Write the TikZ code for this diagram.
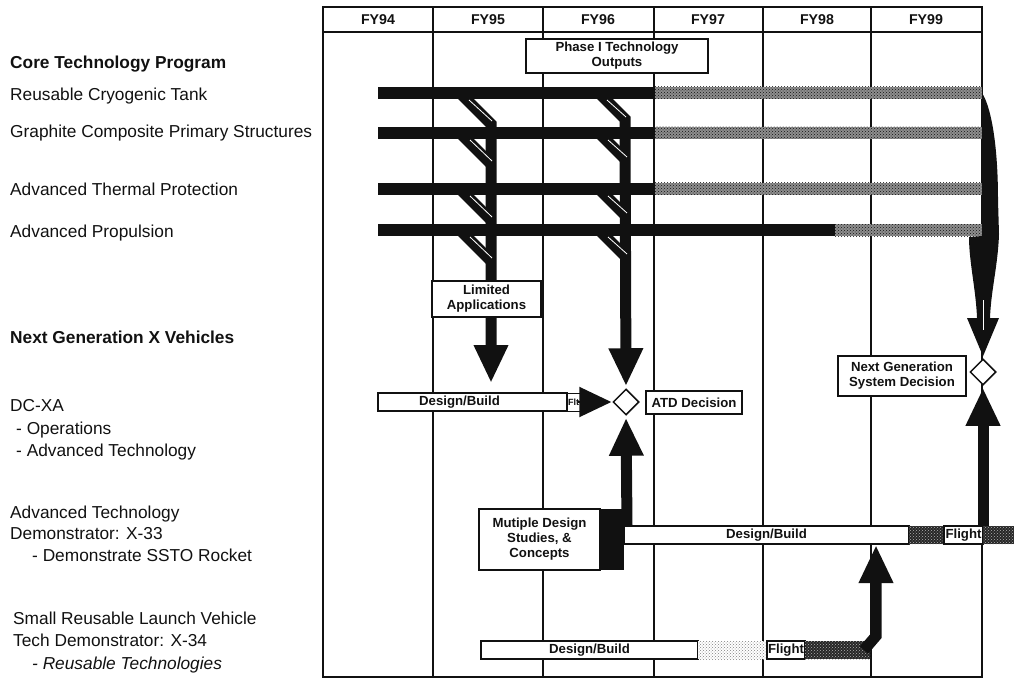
\documentclass[tikz,border=0pt]{standalone}
\usepackage{fontspec}
\setmainfont{Liberation Sans}
\usetikzlibrary{arrows.meta,positioning,calc,shapes.geometric,patterns}
\definecolor{inkblack}{HTML}{111111}
\definecolor{hatchgray}{HTML}{8E8E8E}
\newcommand{\chartfont}{\fontsize{13.2}{15}\selectfont\bfseries}
\newcommand{\yearfont}{\fontsize{14.2}{16}\selectfont\bfseries}
\newcommand{\rowfont}{\fontsize{17.3}{20}\selectfont}
\tikzset{
  yearline/.style={line width=1.3pt,draw=inkblack},
  yearcell/.style={inner sep=0pt,font=\yearfont,text=inkblack},
  box/.style={draw=inkblack,line width=1.5pt,fill=white,align=center,inner sep=1pt,outer sep=0pt,font=\chartfont,text=inkblack},
  bar/.style={box,minimum height=18pt,anchor=west},
  fltbox/.style={box,line width=0.8pt,minimum height=18pt,font=\fontsize{9}{10}\selectfont\bfseries},
  rowlabel/.style={anchor=base west,inner sep=0pt,font=\rowfont,text=inkblack},
  headlabel/.style={rowlabel,font=\rowfont\bfseries},
  corebar/.style={fill=inkblack,minimum height=12pt,inner sep=0pt,outer sep=0pt,anchor=west},
  hatchbar/.style={preaction={fill=hatchgray},pattern=crosshatch dots,pattern color=inkblack,minimum height=12pt,inner sep=0pt,outer sep=0pt,anchor=west},
  hatchdark/.style={preaction={fill=black!85},pattern=crosshatch dots,pattern color=gray!60},
  hatchlight/.style={preaction={fill=white},pattern=crosshatch dots,pattern color=black!50},
  decision/.style={diamond,draw=inkblack,line width=1.5pt,fill=white,minimum width=26pt,minimum height=26pt,inner sep=0pt},
  bigflow/.style={-{Triangle[width=32pt,length=38pt]},line width=11pt,draw=inkblack},
  branch/.style={line width=11pt,draw=inkblack},
  pointer/.style={-{Triangle[width=30pt,length=32pt]},line width=2pt,draw=inkblack},
  glint/.style={draw=white,line width=0.8pt}
}
\begin{document}
\begin{tikzpicture}[x=1pt,y=-1pt]
  \useasboundingbox (0,0) rectangle (1014,679);
  \draw[yearline] (323,7) rectangle (982,677);
  \draw[yearline] (323,32) -- (982,32);
  \draw[yearline] (433,7) -- (433,677);
  \draw[yearline] (543,7) -- (543,677);
  \draw[yearline] (654,7) -- (654,677);
  \draw[yearline] (763,7) -- (763,677);
  \draw[yearline] (871,7) -- (871,677);
  \node[yearcell] (fy94) at (378,20) {FY94};
  \node[yearcell] (fy95) at (488,20) {FY95};
  \node[yearcell] (fy96) at (598,20) {FY96};
  \node[yearcell] (fy97) at (708,20) {FY97};
  \node[yearcell] (fy98) at (817,20) {FY98};
  \node[yearcell] (fy99) at (926,20) {FY99};

  \node[corebar,minimum width=277pt] (tank) at (378,93) {};
  \node[hatchbar,minimum width=327pt] (tankh) at (tank.east) {};
  \node[corebar,minimum width=277pt] (structure) at (378,133) {};
  \node[hatchbar,minimum width=327pt] (structureh) at (structure.east) {};
  \node[corebar,minimum width=277pt] (thermal) at (378,189) {};
  \node[hatchbar,minimum width=327pt] (thermalh) at (thermal.east) {};
  \node[corebar,minimum width=457pt] (propulsion) at (378,230) {};
  \node[hatchbar,minimum width=147pt] (propulsionh) at (propulsion.east) {};

  \node[decision] (dxd) at (626,402) {};
  \node[decision] (ngd) at (983,372) {};
  \coordinate (limtip) at (491,383);

  \draw[bigflow] ($(tank.west)+(82,0)$) -- ++(31,31) -- (limtip);
  \draw[branch] ($(structure.west)+(82,0)$) -- ++(31,31);
  \draw[branch] ($(thermal.west)+(82,0)$) -- ++(31,31);
  \draw[branch] ($(propulsion.west)+(82,0)$) -- ++(31,31);
  \draw[glint] ($(tank.west)+(91,7)$) -- ++(23,21);
  \draw[glint] ($(structure.west)+(92,7)$) -- ++(22,21);
  \draw[glint] ($(thermal.west)+(92,7)$) -- ++(22,21);
  \draw[glint] ($(propulsion.west)+(92,7)$) -- ++(22,21);

  \draw[bigflow,shorten >=2pt] ($(tank.west)+(221,0)$) -- ++(26,26) -- (dxd.north);
  \draw[branch] ($(structure.west)+(221,0)$) -- ++(26,26);
  \draw[branch] ($(thermal.west)+(221,0)$) -- ++(26,26);
  \draw[branch] ($(propulsion.west)+(221,0)$) -- ++(26,26);
  \draw[glint] ($(tank.west)+(229,7)$) -- ++(19,17);
  \draw[glint] ($(structure.west)+(230,7)$) -- ++(19,17);
  \draw[glint] ($(thermal.west)+(230,7)$) -- ++(19,17);
  \draw[glint] ($(propulsion.west)+(230,7)$) -- ++(19,17);

  \fill[inkblack] (tankh.east) .. controls (990,105) and (998,140) .. (998,200) -- (999,234)
    .. controls (998,265) and (991,290) .. (990,318) -- (999,318) -- ($(ngd.north)+(0,-2)$)
    -- (967,318) -- (977,318) .. controls (976,290) and (969,262) .. (969,237) -- (propulsionh.south east) -- cycle;
  \draw[glint] (983,300) -- (983,330);

  \node[box,minimum width=182pt,minimum height=34pt] (phase) at (617,56) {Phase I Technology\\Outputs};
  \node[box,minimum width=109pt,minimum height=36pt] (lim) at (486.5,299) {Limited\\Applications};
  \node[box,minimum width=96pt,minimum height=23pt] (atd) at (694,402.5) {ATD Decision};
  \node[box,minimum width=128pt,minimum height=40pt] (ngsd) at (902,376) {Next Generation\\System Decision};

  \node[bar,minimum width=189pt] (dcxa) at (378,402) {Design/Build\hspace*{26pt}};
  \node[fltbox,minimum width=19pt] (dcxaflt) at (576.5,402) {Flt\hspace*{6pt}};
  \draw[pointer,shorten >=1pt] ($(dxd.west)+(-34,0)$) -- (dxd.west);

  \fill[inkblack] (598,509) rectangle (624,570);
  \node[box,minimum width=121pt,minimum height=61pt] (mds) at (539.5,539.5) {Mutiple Design\\Studies, \&\\Concepts};
  \node[bar,minimum width=285pt] (xttbuild) at (624,535) {Design/Build};
  \fill[hatchdark] (xttbuild.north east) rectangle ++(35,18);
  \node[box,minimum width=39pt,minimum height=18pt] (xttflight) at (963.5,535) {Flight};
  \fill[hatchdark] (xttflight.north east) rectangle (1014,544);
  \draw[bigflow,shorten >=2pt] ($(xttbuild.north west)+(3,0)$) -- (dxd.south);
  \draw[bigflow,shorten >=2pt] (ngd.south |- xttbuild.north) -- (ngd.south);

  \node[bar,minimum width=217pt] (xtfbuild) at (481,650) {Design/Build};
  \fill[hatchlight] (xtfbuild.north east) rectangle ++(69,18);
  \node[box,minimum width=38pt,minimum height=18pt] (xtfflight) at (786,650) {Flight};
  \fill[hatchdark] (xtfflight.north east) rectangle (870,659);
  \draw[bigflow] ($(xtfbuild.east)+(166,0)$) -- ++(12,-14) -- ($(xttbuild.south east)+(-33,1)$);

  \node[headlabel] (corehead) at (10,69) {Core Technology Program};
  \node[rowlabel] (tanklabel) at (10,101) {Reusable Cryogenic Tank};
  \node[rowlabel] (structurelabel) at (10,138) {Graphite Composite Primary Structures};
  \node[rowlabel] (thermallabel) at (10,196) {Advanced Thermal Protection};
  \node[rowlabel] (propulsionlabel) at (10,237) {Advanced Propulsion};
  \node[headlabel] (xhead) at (10,343) {Next Generation X Vehicles};
  \node[rowlabel] (dcxalabel) at (10,411) {DC-XA};
  \node[rowlabel] (dcxaops) at (16,434) {- Operations};
  \node[rowlabel] (dcxaadv) at (16,456) {- Advanced Technology};
  \node[rowlabel] (xttlabel) at (10,518) {Advanced Technology};
  \node[rowlabel] (xttdemo) at (10,539) {Demonstrator: X-33};
  \node[rowlabel] (xttsst) at (32,561) {- Demonstrate SSTO Rocket};
  \node[rowlabel] (xtflabel) at (13,624) {Small Reusable Launch Vehicle};
  \node[rowlabel] (xtfdemo) at (13,646) {Tech Demonstrator: X-34};
  \node[rowlabel,font=\rowfont\itshape] (xtfreuse) at (32,669) {- Reusable Technologies};
\end{tikzpicture}
\end{document}
